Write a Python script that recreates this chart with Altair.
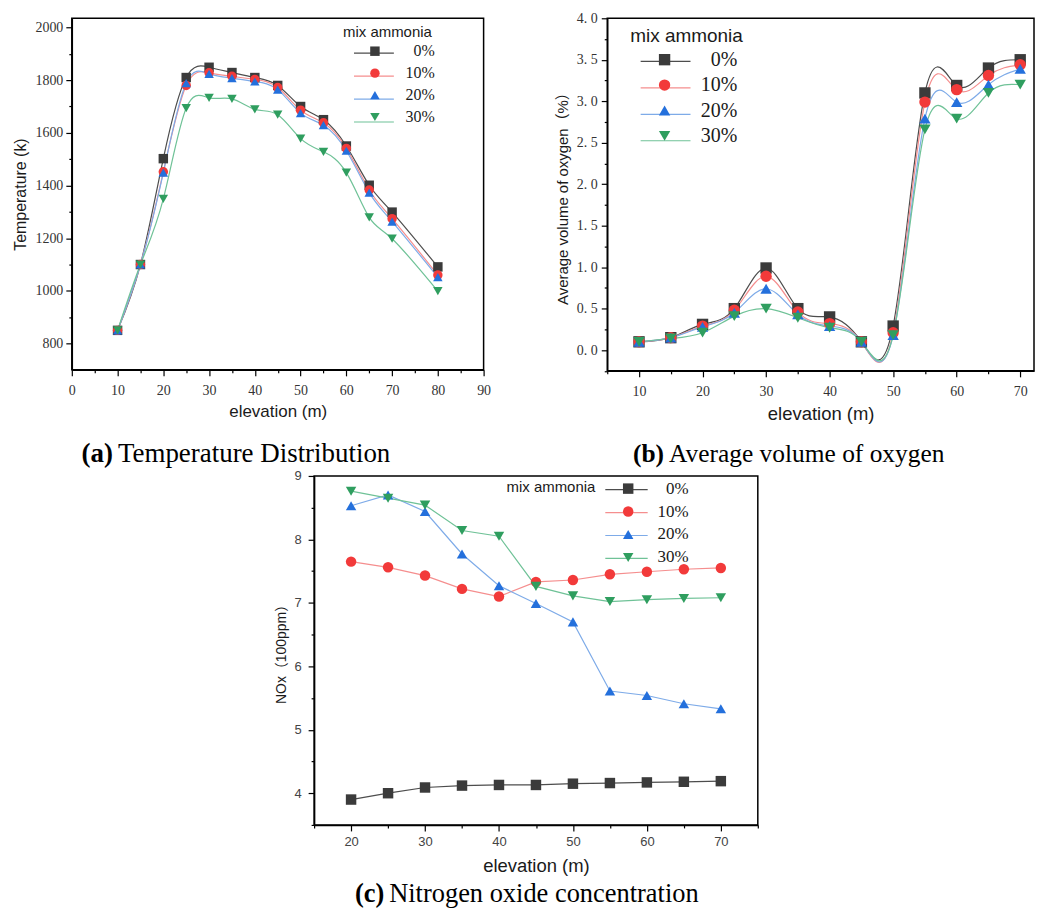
import altair as alt
import pandas as pd

SERIES = ["0%", "10%", "20%", "30%"]
SHAPES = ["square", "circle", "triangle-up", "triangle-down"]
PT_COLORS = ["#3b3b3b", "#f23a3a", "#2470dc", "#2f9e5f"]
LN_COLORS = ["#4d4d4d", "#f58e8e", "#7eabe8", "#6fc297"]

SANS = "Liberation Sans, Noto Sans CJK SC, sans-serif"
SERIF = "Liberation Serif, serif"

# (a) Temperature distribution
A_X = [10, 15, 20, 25, 30, 35, 40, 45, 50, 55, 60, 65, 70, 80]
A_0 = [850, 1100, 1502, 1810, 1849, 1829, 1810, 1780, 1700, 1650, 1550, 1401, 1299, 1091]
A_10 = [850, 1100, 1452, 1780, 1828, 1815, 1803, 1772, 1686, 1638, 1541, 1383, 1274, 1060]
A_20 = [850, 1100, 1449, 1789, 1824, 1808, 1795, 1764, 1675, 1629, 1532, 1373, 1263, 1052]
A_30 = [850, 1100, 1349, 1694, 1733, 1729, 1689, 1669, 1578, 1528, 1449, 1279, 1198, 999]

# (b) Average volume of oxygen
B_X = [10, 15, 20, 25, 30, 35, 40, 45, 50, 55, 60, 65, 70]
B_0 = [0.10, 0.15, 0.31, 0.50, 0.99, 0.50, 0.40, 0.10, 0.29, 3.10, 3.19, 3.40, 3.50]
B_10 = [0.10, 0.15, 0.29, 0.48, 0.89, 0.46, 0.32, 0.10, 0.21, 2.99, 3.14, 3.31, 3.44]
B_20 = [0.10, 0.15, 0.28, 0.45, 0.74, 0.43, 0.29, 0.10, 0.18, 2.79, 2.99, 3.20, 3.39]
B_30 = [0.10, 0.14, 0.21, 0.41, 0.50, 0.39, 0.27, 0.10, 0.18, 2.66, 2.79, 3.10, 3.20]

# (c) Nitrogen oxide concentration
C_X = [20, 25, 30, 35, 40, 45, 50, 55, 60, 65, 70]
C_0 = [3.90, 4.00, 4.09, 4.12, 4.13, 4.13, 4.15, 4.16, 4.17, 4.18, 4.19]
C_10 = [7.65, 7.56, 7.43, 7.22, 7.10, 7.33, 7.36, 7.45, 7.49, 7.53, 7.55]
C_20 = [8.53, 8.70, 8.44, 7.77, 7.27, 6.99, 6.70, 5.61, 5.54, 5.41, 5.33]
C_30 = [8.76, 8.65, 8.54, 8.14, 8.05, 7.26, 7.11, 7.02, 7.05, 7.07, 7.08]


def long_df(xs, cols):
    rows = []
    for s, vals in zip(SERIES, cols):
        for x, v in zip(xs, vals):
            rows.append({"x": x, "v": v, "s": s})
    return pd.DataFrame(rows)


def panel(df, c):
    xs = alt.Scale(domain=c["xdom"], nice=False, zero=False)
    ys = alt.Scale(domain=c["ydom"], nice=False, zero=False)
    common = dict(grid=False, tickColor="black", tickWidth=1.2, labelFlush=False,
                  labelOverlap=False)
    xaxis = alt.Axis(values=c["xmaj"], orient="bottom", title=c["xtitle"], tickSize=6,
                     domainColor="black", domainWidth=1.5, format="d",
                     labelFont=c["lfont"], labelFontSize=c["lsize"], labelColor=c["lcolor"],
                     labelPadding=c["xlp"], titleFont=SANS, titleFontSize=c["xts"],
                     titleFontWeight="normal", titleColor="#1a1a1a", titlePadding=c["xtp"],
                     **common)
    yargs = dict(values=c["ymaj"], orient="left", title=c["ytitle"], tickSize=6,
                 domainColor="black", domainWidth=1.5,
                 labelFont=c["lfont"], labelFontSize=c["lsize"], labelColor=c["lcolor"],
                 labelPadding=c["ylp"], titleFont=SANS, titleFontSize=c["yts"],
                 titleFontWeight="normal", titleColor="#1a1a1a", titlePadding=c["ytp"],
                 **common)
    if c.get("ylabelExpr"):
        yargs["labelExpr"] = c["ylabelExpr"]
    if c.get("yformat"):
        yargs["format"] = c["yformat"]
    yaxis = alt.Axis(**yargs)

    lg = c["legend"]
    line_legend = alt.Legend(
        title=None, orient="none", legendX=lg["lx"], legendY=lg["ly"],
        symbolType="M-2.5,0H2.5", symbolSize=lg["lab"] ** 2, symbolStrokeWidth=1.2,
        labelExpr="''", labelFont=SERIF, labelFontSize=lg["lab"],
        rowPadding=lg["rp"], padding=0,
    )
    pt_kw = dict(
        title="mix ammonia", orient="none", legendX=lg["px"], legendY=lg["py"],
        titleFont=SANS, titleFontSize=lg["tfs"], titleFontWeight="normal",
        titleColor="#1a1a1a", titlePadding=lg["tp"],
        symbolSize=c["ps"], symbolStrokeWidth=0, symbolOffset=lg["so"],
        labelFont=SERIF, labelFontSize=lg["lab"], labelColor="#1a1a1a",
        labelAlign="right", labelOffset=lg["lo"], rowPadding=lg["rp"], padding=0,
    )
    if lg.get("torient"):
        pt_kw["titleOrient"] = lg["torient"]
        pt_kw["titleAnchor"] = "start"
    pt_legend = alt.Legend(**pt_kw)

    base = alt.Chart(df)
    lines = base.mark_line(interpolate=c["interp"], strokeWidth=1.2).encode(
        x=alt.X("x:Q", scale=xs, axis=xaxis),
        y=alt.Y("v:Q", scale=ys, axis=yaxis),
        color=alt.Color("s:N", scale=alt.Scale(domain=SERIES, range=LN_COLORS),
                        legend=line_legend),
    )
    pts = base.mark_point(filled=True, size=c["ps"], opacity=1).encode(
        x=alt.X("x:Q", scale=xs, axis=None),
        y=alt.Y("v:Q", scale=ys, axis=None),
        color=alt.Color("s:N", scale=alt.Scale(domain=SERIES, range=PT_COLORS),
                        legend=pt_legend),
        shape=alt.Shape("s:N", scale=alt.Scale(domain=SERIES, range=SHAPES),
                        legend=pt_legend),
    )
    minor = base.mark_point(opacity=0).encode(
        x=alt.X("x:Q", scale=xs,
                axis=alt.Axis(values=c["xmin"], orient="bottom", labels=False, title=None,
                              domain=False, tickSize=3, grid=False, tickColor="black",
                              tickWidth=1.2)),
        y=alt.Y("v:Q", scale=ys,
                axis=alt.Axis(values=c["ymin"], orient="left", labels=False, title=None,
                              domain=False, tickSize=3, grid=False, tickColor="black",
                              tickWidth=1.2)),
    )
    cap_tag = alt.Chart(pd.DataFrame({"t": [c["cap_tag"]]})).mark_text(
        font=SERIF, fontSize=c["cap_fs"], fontWeight="bold", align="right",
        baseline="alphabetic", color="black"
    ).encode(text="t:N", x=alt.value(c["cap_x"]), y=alt.value(c["cap_y"]))
    cap_txt = alt.Chart(pd.DataFrame({"t": [c["cap_text"]]})).mark_text(
        font=SERIF, fontSize=c["cap_fs"], align="left", baseline="alphabetic",
        color="black"
    ).encode(text="t:N", x=alt.value(c["cap_x"] + 5), y=alt.value(c["cap_y"]))

    return alt.layer(lines, pts, minor, cap_tag, cap_txt).resolve_scale(
        x="independent", y="independent", color="independent", shape="independent"
    ).properties(width=c["W"], height=c["H"])


cfg_a = dict(
    W=413, H=352.6, xdom=[0, 90], ydom=[700, 2035],
    xmaj=list(range(0, 91, 10)), xmin=list(range(5, 90, 10)),
    ymaj=list(range(800, 2001, 200)), ymin=list(range(900, 2000, 200)), yformat="d",
    interp="natural", xtitle="elevation (m)", ytitle="Temperature (k)",
    lfont=SERIF, lsize=14, lcolor="#333333", xlp=8, ylp=3, xts=17, yts=16, xtp=6, ytp=6,
    ps=90,
    legend=dict(lx=294, ly=26, lab=16, rp=6, px=272, py=7, tfs=15, tp=3,
                so=24, lo=52),
    cap_tag="(a)", cap_text="Temperature Distribution", cap_x=41.3, cap_y=445.3, cap_fs=27,
)

cfg_b = dict(
    W=428, H=353.6, xdom=[5, 72.17], ydom=[-0.25, 4.0],
    xmaj=list(range(10, 71, 10)), xmin=list(range(5, 72, 10)),
    ymaj=[0, 0.5, 1.0, 1.5, 2.0, 2.5, 3.0, 3.5, 4.0],
    ymin=[-0.25, 0.25, 0.75, 1.25, 1.75, 2.25, 2.75, 3.25, 3.75],
    interp="natural", xtitle="elevation (m)", ytitle="Average volume of oxygen（%）",
    ylabelExpr="replace(format(datum.value, '.1f'), '.', '. ')",
    lfont=SERIF, lsize=14, lcolor="#333333", xlp=8, ylp=4, xts=18.5, yts=15, xtp=6, ytp=6,
    ps=130,
    legend=dict(lx=47.5, ly=32.3, lab=20, rp=5.5, px=23, py=8.5, tfs=19, tp=4,
                so=24.5, lo=63),
    cap_tag="(b)", cap_text="Average volume of oxygen", cap_x=57, cap_y=445.3, cap_fs=25.5,
)

cfg_c = dict(
    W=445, H=350, xdom=[15, 75], ydom=[3.5, 9],
    xmaj=list(range(20, 71, 10)), xmin=list(range(15, 76, 10)),
    ymaj=[4, 5, 6, 7, 8, 9], ymin=[3.5, 4.5, 5.5, 6.5, 7.5, 8.5],
    interp="linear", xtitle="elevation (m)", ytitle="NOx（100ppm）",
    lfont=SANS, lsize=13, lcolor="#444444", xlp=5, ylp=7, xts=18.5, yts=14, xtp=8, ytp=5,
    ps=110,
    legend=dict(lx=303.8, ly=4.2, lab=17, rp=5, px=193, py=4.2, tfs=15, tp=4,
                so=19.5, lo=52, torient="left"),
    cap_tag="(c)", cap_text="Nitrogen oxide concentration", cap_x=70.3, cap_y=427.5,
    cap_fs=26.5,
)

chart_a = panel(long_df(A_X, [A_0, A_10, A_20, A_30]), cfg_a)
chart_b = panel(long_df(B_X, [B_0, B_10, B_20, B_30]), cfg_b)
chart_c = panel(long_df(C_X, [C_0, C_10, C_20, C_30]), cfg_c)

spacer = alt.Chart(pd.DataFrame({"t": [""]})).mark_text().encode(
    text="t:N"
).properties(width=202.5, height=10, view=alt.ViewBackground(strokeOpacity=0))

chart = alt.vconcat(
    alt.hconcat(chart_a, chart_b, spacing=63),
    alt.hconcat(spacer, chart_c, spacing=0),
    spacing=0,
).configure_view(stroke="black", strokeWidth=1.5).properties(
    padding={"left": 4, "top": 1, "right": 0, "bottom": 0}
)

chart.save("out.html", embed_options={"renderer": "svg", "actions": False})
